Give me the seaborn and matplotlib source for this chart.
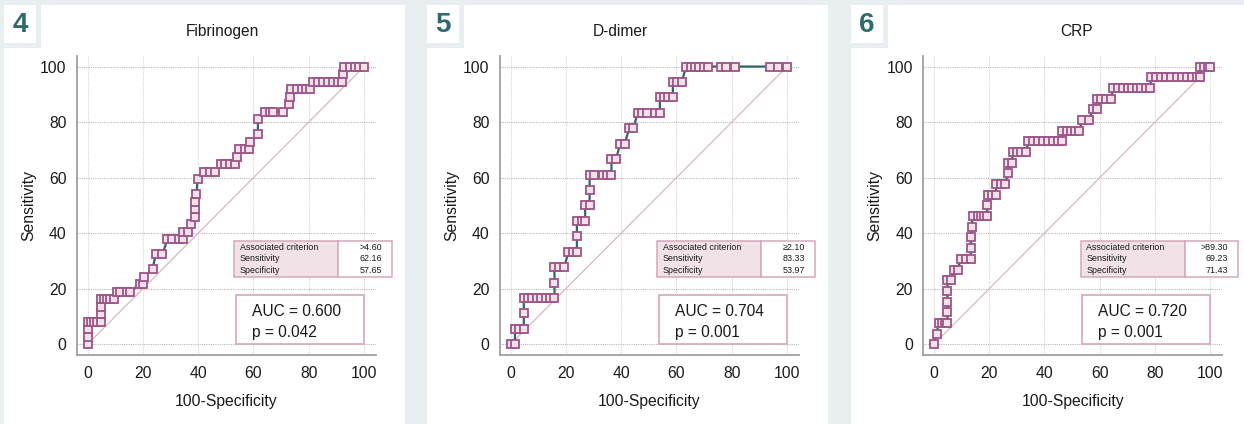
import numpy as np
import pandas as pd
import matplotlib
matplotlib.use("Agg")
import matplotlib.pyplot as plt
import seaborn as sns
from matplotlib.patches import Rectangle
from matplotlib.ticker import MultipleLocator

sns.set_style("white")
plt.rcParams['font.family'] = ['Liberation Sans', 'DejaVu Sans']

# ROC points: 100-specificity (x) and sensitivity (y)
fib_fpr = [0, 0, 0, 0, 1.2, 2.4, 3.5, 4.7, 4.7, 4.7, 4.7, 5.9, 7.1, 8.2, 9.4,
           10.6, 11.8, 14.1, 15.3, 18.8, 20.0, 20.5, 23.5, 24.7, 27.1,
           28.9, 30.6, 32.9, 34.5, 34.5, 36.5, 37.3, 38.8, 38.8, 38.8, 39.4, 39.8,
           42.2, 44.3, 46.1, 48.2, 49.8, 51.6, 53.4, 54.1, 54.9, 57.0, 58.5, 58.8,
           61.6, 61.6, 64.2, 65.9, 67.1, 70.6, 72.9, 73.3, 73.5, 75.7, 77.5, 79.0,
           80.5, 81.4, 83.5, 85.3, 87.1, 88.9, 90.7, 91.9, 92.5, 92.7, 94.9, 96.7,
           98.3, 100]
fib_sens = [0, 2.70, 5.41, 8.11, 8.11, 8.11, 8.11, 8.11, 10.81, 13.51, 16.22, 16.22, 16.22, 16.22, 16.22,
            18.92, 18.92, 18.92, 18.92, 21.62, 21.62, 24.32, 27.03, 32.43, 32.43,
            37.84, 37.84, 37.84, 37.84, 40.54, 40.54, 43.24, 45.95, 48.65, 51.35, 54.05, 59.46,
            62.16, 62.16, 62.16, 64.86, 64.86, 64.86, 64.86, 67.57, 70.27, 70.27, 70.27, 72.97,
            75.68, 81.08, 83.78, 83.78, 83.78, 83.78, 86.49, 89.19, 91.89, 91.89, 91.89, 91.89,
            91.89, 94.59, 94.59, 94.59, 94.59, 94.59, 94.59, 94.59, 97.30, 100, 100, 100,
            100, 100]

ddim_fpr = [0, 1.6, 1.6, 3.2, 4.8, 4.8, 4.8, 6.3, 7.9, 9.5, 11.1, 12.7, 14.3, 15.9,
            15.9, 15.9, 17.7, 19.5, 20.9, 22.6, 24.0, 24.0, 24.0, 25.7, 27.0, 27.0,
            28.6, 28.6, 28.6, 30.2, 33.3, 34.9, 36.5, 36.5, 38.1, 39.7, 41.3, 42.9,
            44.4, 46.0, 47.6, 49.2, 52.4, 54.0, 54.0, 55.6, 57.1, 58.7, 58.7, 60.3,
            61.9, 63.5, 65.1, 66.7, 68.3, 69.8, 71.4, 76.2, 77.8, 81.0, 93.7, 96.8, 100]
ddim_sens = [0, 0, 5.56, 5.56, 5.56, 11.11, 16.67, 16.67, 16.67, 16.67, 16.67, 16.67, 16.67, 16.67,
             22.22, 27.78, 27.78, 27.78, 33.33, 33.33, 33.33, 38.89, 44.44, 44.44, 44.44, 50.0,
             50.0, 55.56, 61.11, 61.11, 61.11, 61.11, 61.11, 66.67, 66.67, 72.22, 72.22, 77.78,
             77.78, 83.33, 83.33, 83.33, 83.33, 83.33, 88.89, 88.89, 88.89, 88.89, 94.44, 94.44,
             94.44, 100, 100, 100, 100, 100, 100, 100, 100, 100, 100, 100, 100]

crp_fpr = [0, 1.0, 1.8, 3.0, 4.0, 4.9, 4.9, 4.9, 4.9, 4.9, 6.3, 7.4, 8.6, 9.8, 11.6,
           13.4, 13.4, 13.4, 13.7, 14.0, 15.8, 17.0, 18.3, 19.3, 19.3, 19.5, 21.1,
           22.5, 22.5, 24.3, 25.9, 26.7, 26.9, 28.3, 28.5, 30.0, 31.7, 33.4, 34.2,
           35.8, 37.6, 39.4, 41.2, 43.0, 44.8, 46.2, 46.3, 48.0, 49.6, 51.2, 52.6,
           53.7, 56.1, 57.5, 58.9, 58.9, 60.6, 62.4, 64.2, 64.8, 66.6, 68.4, 70.2,
           71.8, 73.3, 75.0, 76.6, 78.1, 78.7, 80.5, 82.3, 84.1, 85.9, 87.8, 89.6,
           91.4, 93.2, 95.0, 96.2, 96.2, 97.7, 99.2, 100]
crp_sens = [0, 3.85, 7.69, 7.69, 7.69, 7.69, 11.54, 15.38, 19.23, 23.08, 23.08, 26.92, 26.92, 30.77, 30.77,
            30.77, 34.62, 38.46, 42.31, 46.15, 46.15, 46.15, 46.15, 46.15, 50.0, 53.85, 53.85,
            53.85, 57.69, 57.69, 57.69, 61.54, 65.38, 65.38, 69.23, 69.23, 69.23, 69.23, 73.08,
            73.08, 73.08, 73.08, 73.08, 73.08, 73.08, 73.08, 76.92, 76.92, 76.92, 76.92, 76.92,
            80.77, 80.77, 84.62, 84.62, 88.46, 88.46, 88.46, 88.46, 92.31, 92.31, 92.31, 92.31,
            92.31, 92.31, 92.31, 92.31, 92.31, 96.15, 96.15, 96.15, 96.15, 96.15, 96.15, 96.15,
            96.15, 96.15, 96.15, 96.15, 100, 100, 100, 100]

titles = ["Fibrinogen", "D-dimer", "CRP"]
panel_nums = ["4", "5", "6"]
auc_vals = ["0.600", "0.704", "0.720"]
p_vals = ["0.042", "0.001", "0.001"]
criteria = [">4.60", "\u22652.10", ">89.30"]
crit_sens = ["62.16", "83.33", "69.23"]
crit_spec = ["57.65", "53.97", "71.43"]
row_names = ["Associated criterion", "Sensitivity", "Specificity"]
diag = [0, 100]

curves = [(fib_fpr, fib_sens), (ddim_fpr, ddim_sens), (crp_fpr, crp_sens)]

# colours
bg = "#e9eef1"
teal = "#2c6669"
mk_edge = "#9c5587"
mk_face = "#f3e1ea"
diag_col = "#d8b7c5"
box_edge = "#d4a8bc"
box_fill = "#f1e2e7"
num_col = "#2f6a6d"
spine_col = "#a0a0a0"

W, H = 1244, 424
fig = plt.figure(figsize=(W / 100, H / 100), dpi=100, facecolor=bg)


def px_rect(x0, y0, x1, y1, **kw):
    # rectangle given in pixel coords (origin top-left), drawn behind the axes
    r = Rectangle((x0 / W, 1 - y1 / H), (x1 - x0) / W, (y1 - y0) / H,
                  transform=fig.transFigure, lw=0, zorder=-10, **kw)
    fig.add_artist(r)


# white panels with their number tabs
panel_x = [(4, 36, 41, 404.5), (427, 459, 464, 827.5), (851, 883, 888, 1244)]
for (a, b, c, d), num in zip(panel_x, panel_nums):
    px_rect(a, 5, b, 43, facecolor="white")
    px_rect(c, 5, d, H, facecolor="white")
    px_rect(a, 48, d, H, facecolor="white")
    fig.text((a + b) / 2 / W, 1 - 25 / H, num, ha="center", va="center",
             fontsize=20, fontweight="bold", color=num_col)

title_x = [222, 620.5, 1077]
ax_left = [77, 500, 923.3]
ax_w, ax_top, ax_bot = 298.7, 56, 355

for i in range(3):
    fpr, sens = curves[i]
    df = pd.DataFrame({"fpr": fpr, "sens": sens})
    ax = fig.add_axes([ax_left[i] / W, 1 - ax_bot / H, ax_w / W, (ax_bot - ax_top) / H])
    ax.set_facecolor("none")

    ax.plot(diag, diag, color=diag_col, lw=0.9, zorder=2)
    sns.lineplot(data=df, x="fpr", y="sens", ax=ax, estimator=None, sort=False,
                 color=teal, lw=1.6, marker="s", markersize=5.5,
                 markerfacecolor=mk_face, markeredgecolor=mk_edge,
                 markeredgewidth=1.3, zorder=4)

    ax.set_xlim(-3.8, 104.2)
    ax.set_ylim(-3.85, 103.8)
    ax.xaxis.set_major_locator(MultipleLocator(20))
    ax.yaxis.set_major_locator(MultipleLocator(20))
    ax.xaxis.set_minor_locator(MultipleLocator(5))
    ax.yaxis.set_minor_locator(MultipleLocator(5))
    ax.tick_params(which="both", direction="in", length=4, width=1, color=spine_col)
    ax.tick_params(axis="x", which="major", pad=8, labelsize=11.3, labelcolor="#1a1a1a")
    ax.tick_params(axis="y", which="major", pad=7.5, labelsize=11.3, labelcolor="#1a1a1a")
    for s in ["top", "right"]:
        ax.spines[s].set_visible(False)
    for s in ["left", "bottom"]:
        ax.spines[s].set_color(spine_col)
        ax.spines[s].set_linewidth(1.3)
    ax.yaxis.grid(True, which="major", ls=(0, (1, 1)), color="#b8b8b8", lw=0.8)
    ax.xaxis.grid(True, which="major", ls=(0, (1, 1)), color="#d6d6d6", lw=0.8)
    ax.set_axisbelow(True)

    ax.set_xlabel("100-Specificity", fontsize=11.3, labelpad=9, color="#1a1a1a")
    ax.set_ylabel("Sensitivity", fontsize=11.3, labelpad=3, color="#1a1a1a")

    fig.text(title_x[i] / W, 1 - 36 / H, titles[i], ha="center", va="baseline",
             fontsize=11.2, color="#1a1a1a")

    # criterion table
    ax.add_patch(Rectangle((53.1, 24.3), 37.6, 13.0, facecolor=box_fill,
                           edgecolor=box_edge, lw=1.1, clip_on=False, zorder=5))
    ax.add_patch(Rectangle((90.7, 24.3), 19.3, 13.0, facecolor="white",
                           edgecolor=box_edge, lw=1.1, clip_on=False, zorder=5))
    vals = [criteria[i], crit_sens[i], crit_spec[i]]
    for k, yy in enumerate([34.9, 30.8, 26.6]):
        ax.text(55.1, yy, row_names[k], fontsize=6.4, ha="left", va="center",
                color="#1a1a1a", zorder=6, clip_on=False)
        ax.text(106.4, yy, vals[k], fontsize=6.4, ha="right", va="center",
                color="#1a1a1a", zorder=6, clip_on=False)

    # AUC box
    ax.add_patch(Rectangle((53.7, 0), 46.3, 17.6, facecolor="white",
                           edgecolor=box_edge, lw=1.2, zorder=5))
    ax.text(59.4, 10.2, "AUC = " + auc_vals[i], fontsize=11.2, ha="left",
            va="baseline", color="#1a1a1a", zorder=6)
    ax.text(59.4, 2.7, "p = " + p_vals[i], fontsize=11.2, ha="left",
            va="baseline", color="#1a1a1a", zorder=6)

fig.savefig("out.png", dpi=100, facecolor=bg)
